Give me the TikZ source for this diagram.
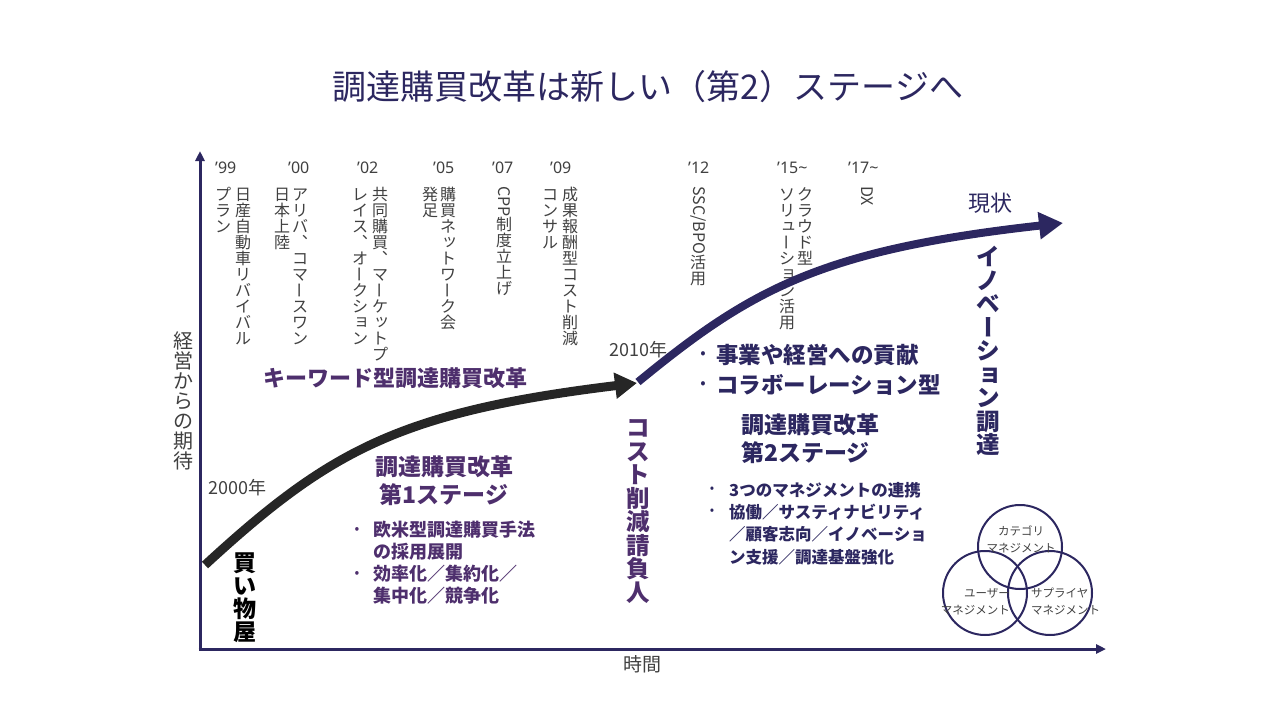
\documentclass[tikz,border=0pt]{standalone}
\usepackage{graphicx}
\usepackage{fontspec}
\setmainfont{Noto Sans CJK JP}
\newfontfamily\latinfont{Noto Sans}
\usetikzlibrary{arrows.meta}
\definecolor{navy}{HTML}{2C2760}
\definecolor{purp}{HTML}{4E2F6D}
\definecolor{graytxt}{HTML}{404040}
\definecolor{curveblack}{HTML}{262626}
\makeatletter
\def\vt@end{vt@end}
\def\vt@strut{\vrule height .88em depth .12em width 0pt}
\def\vt@loop#1{\ifx\vt@end#1\else\vt@char{#1}\expandafter\vt@loop\fi}
\def\vt@char#1{\hbox to 1em{\vt@strut\hss#1\hss}}
\newcommand\vtxt[1]{\vbox{\offinterlineskip\vt@loop#1\vt@end}}
\newcommand\vbar{\rotatebox[origin=c]{-90}{\vt@strut ー}}
\newcommand\vcom{︑}
\newcommand\vsm[1]{\hbox to 1em{\hskip .1em\rlap{\raisebox{.1em}{#1}}\hss}}
\newcommand\vlat[1]{\raisebox{.88em}{\rotatebox{-90}{#1}}}
\makeatother
\begin{document}
\begin{tikzpicture}[x=1pt,y=-1pt,
  vtext/.style={anchor=north, inner sep=0pt, text=graytxt,
    font=\fontsize{16}{18}\selectfont},
  vbold/.style={anchor=north, inner sep=0pt,
    font=\bfseries\fontsize{23.5}{26}\selectfont},
  yearlab/.style={anchor=west, inner sep=0pt, text=graytxt,
    font=\latinfont\fontsize{16}{18}\selectfont},
  htext/.style={anchor=west, inner sep=0pt},
  bul/.style={inner sep=0pt},
  clabel/.style={inner sep=0pt, text=graytxt, font=\fontsize{11.5}{17}\selectfont},
  vcircle/.style={circle, draw=navy, line width=2pt, minimum size=84pt, inner sep=0pt}
]
\useasboundingbox (0,0) rectangle (1280,720);

% title
\node[text=navy, font=\fontsize{34}{40}\selectfont] (title) at (648,87) {調達購買改革は新しい（第2）ステージへ};

% axes
\coordinate (origin) at (200,649);
\coordinate (ytop) at (200,151);
\coordinate (xend) at (1106,649);
\draw[navy, line width=3pt, -{Triangle[length=10pt,width=9pt]}] (origin) -- (ytop);
\draw[navy, line width=3pt, -{Triangle[length=10pt,width=9pt]}] ([xshift=-1.5pt]origin) -- (xend);
\node[vtext, font=\fontsize{20}{24}\selectfont] (ylab) at (183,331) {\vtxt{経営からの期待}};
\node[text=graytxt, font=\fontsize{19}{22}\selectfont] (xlab) at (642,664) {時間};

% year labels
\node[yearlab] (y99) at (215,168) {’99};
\node[yearlab] (y00) at (288,168) {’00};
\node[yearlab] (y02) at (357,168) {’02};
\node[yearlab] (y05) at (433,168) {’05};
\node[yearlab] (y07) at (492,168) {’07};
\node[yearlab] (y09) at (550,168) {’09};
\node[yearlab] (y12) at (688,168) {’12};
\node[yearlab] (y15) at (777,168) {’15\textasciitilde};
\node[yearlab] (y17) at (848,168) {’17\textasciitilde};

% vertical timeline texts
\node[vtext] (v99a) at (243,186) {\vtxt{日産自動車リバイバル}};
\node[vtext] (v99b) at (223,186) {\vtxt{プラン}};
\node[vtext] (v00a) at (300,186) {\vtxt{アリバ\vcom コマ\vbar スワン}};
\node[vtext] (v00b) at (282,186) {\vtxt{日本上陸}};
\node[vtext] (v02a) at (380,186) {\vtxt{共同購買\vcom マ\vbar ケ{\vsm{ッ}}トプ}};
\node[vtext] (v02b) at (360,186) {\vtxt{レイス\vcom オ\vbar クシ{\vsm{ョ}}ン}};
\node[vtext] (v05a) at (448,186) {\vtxt{購買ネ{\vsm{ッ}}トワ\vbar ク会}};
\node[vtext] (v05b) at (430,186) {\vtxt{発足}};
\node[vtext] (v07a) at (504,186) {\vtxt{{\vlat{CPP}}制度立上げ}};
\node[vtext] (v09a) at (570,186) {\vtxt{成果報酬型コスト削減}};
\node[vtext] (v09b) at (550,186) {\vtxt{コンサル}};
\node[vtext] (v12a) at (698,186) {\vtxt{{\vlat{SSC/BPO}}活用}};
\node[vtext] (v15a) at (805,186) {\vtxt{クラウド型}};
\node[vtext] (v15b) at (787,186) {\vtxt{ソリ{\vsm{ュ}}\vbar シ{\vsm{ョ}}ン活用}};
\node[vtext] (v17a) at (867,186) {\vtxt{{\vlat{DX}}}};

% curves
\coordinate (b0) at (205,565);
\coordinate (b1) at (637,383);
\draw[curveblack, line width=9pt, -{Triangle[length=22pt,width=25pt]}] (b0) .. controls (330,450) and (400,412) .. (b1);
\coordinate (n0) at (638,382);
\coordinate (n1) at (1063,223);
\draw[navy, line width=8pt, -{Triangle[length=24pt,width=26pt]}] (n0) .. controls (750,290) and (820,250) .. (n1);

% left texts
\node[htext, text=purp, font=\bfseries\fontsize{22}{26}\selectfont] (kw) at (263,378) {キーワード型調達購買改革};
\node[htext, text=graytxt, font=\fontsize{18}{20}\selectfont] (t2000) at (208,488) {2000年};
\node[htext, text=graytxt, font=\fontsize{18}{20}\selectfont] (t2010) at (609,350) {2010年};
\node[text=purp, align=center, font=\bfseries\fontsize{23}{28}\selectfont] (st1) at (444,481) {調達購買改革\\第1ステージ};
\node[bul, text=purp, font=\fontsize{14}{16}\selectfont] (b1a) at (357,530) {\textbullet};
\node[bul, text=purp, font=\fontsize{14}{16}\selectfont] (b1b) at (357,574) {\textbullet};
\node[htext, text=purp, align=left, font=\bfseries\fontsize{18}{22}\selectfont] (s1list) at (373,563) {欧米型調達購買手法\\の採用展開\\効率化／集約化／\\集中化／競争化};
\node[vbold, text=black, font=\bfseries\fontsize{23}{26}\selectfont] (kaimono) at (245,551) {\vtxt{買い物屋}};
\node[vbold, text=purp] (cost) at (638,416) {\vtxt{コスト削減請負人}};

% right texts
\node[bul, text=navy, font=\fontsize{16}{18}\selectfont] (b2a) at (703,355) {\textbullet};
\node[bul, text=navy, font=\fontsize{16}{18}\selectfont] (b2b) at (703,385) {\textbullet};
\node[htext, text=navy, align=left, font=\bfseries\fontsize{22.5}{30}\selectfont] (r1) at (716,370) {事業や経営への貢献\\コラボーレーション型};
\node[htext, text=navy, align=left, font=\bfseries\fontsize{23}{28}\selectfont] (st2) at (741,439) {調達購買改革\\第2ステージ};
\node[bul, text=navy, font=\fontsize{13}{16}\selectfont] (b3a) at (712,490) {\textbullet};
\node[bul, text=navy, font=\fontsize{13}{16}\selectfont] (b3b) at (712,512) {\textbullet};
\node[htext, text=navy, align=left, font=\bfseries\fontsize{16.5}{22.3}\selectfont] (s2list) at (729,523.5) {3つのマネジメントの連携\\協働／サスティナビリティ\\／顧客志向／イノベーショ\\ン支援／調達基盤強化};
\node[vbold, text=navy] (inno) at (988,245) {\vtxt{イノベ\vbar シ{\vsm{ョ}}ン調達}};
\node[text=navy, font=\fontsize{22}{26}\selectfont] (now) at (990,203) {現状};

% circles
\node[vcircle] (ccat) at (1020,547) {};
\node[vcircle] (cuser) at (985,593) {};
\node[vcircle] (csup) at (1050,593) {};
\node[clabel, align=center] (lcat) at (1021,539) {カテゴリ\\マネジメント};
\node[clabel, align=right, anchor=east] (luser) at (1010,601.5) {ユーザー\\マネジメント};
\node[clabel, align=left, anchor=west] (lsup) at (1031,601.5) {サプライヤ\\マネジメント};
\end{tikzpicture}
\end{document}
